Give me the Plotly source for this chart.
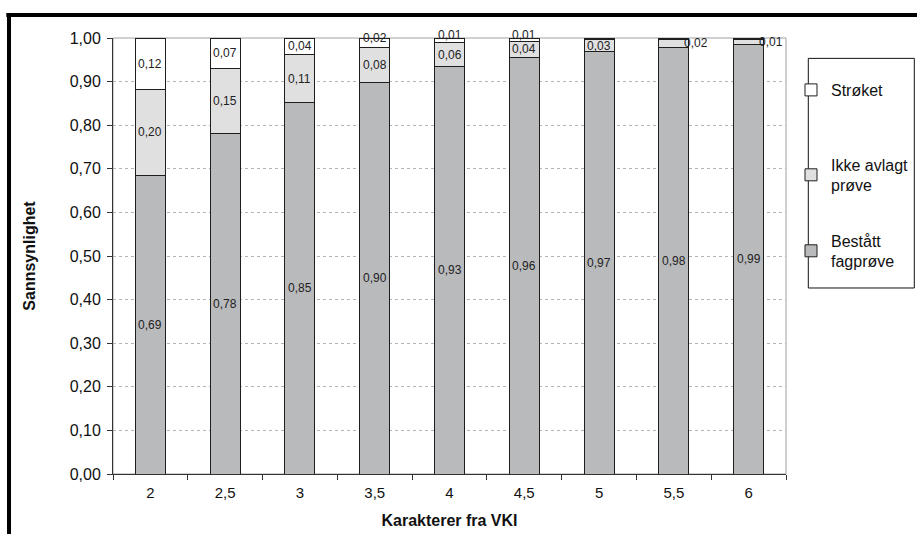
import plotly.graph_objects as go

# ---- data ----
categories = ["2", "2,5", "3", "3,5", "4", "4,5", "5", "5,5", "6"]
bestatt = [0.685, 0.780, 0.851, 0.899, 0.934, 0.956, 0.968, 0.979, 0.986]
ikke_avlagt = [0.197, 0.151, 0.111, 0.080, 0.056, 0.036, 0.029, 0.017, 0.011]
stroket = [0.118, 0.069, 0.038, 0.021, 0.010, 0.008, 0.003, 0.004, 0.003]
y_ticks = [0.0, 0.1, 0.2, 0.3, 0.4, 0.5, 0.6, 0.7, 0.8, 0.9, 1.0]

series = [
    ("Bestått<br>fagprøve", bestatt, "#b9babc", "legend4"),
    ("Ikke avlagt<br>prøve", ikke_avlagt, "#e0e0e0", "legend3"),
    ("Strøket", stroket, "#ffffff", "legend2"),
]

FONT = "Liberation Sans, Arial, sans-serif"
fig = go.Figure()
for name, vals, color, leg in series:
    fig.add_trace(go.Bar(
        x=categories, y=vals, name=name, showlegend=True,
        marker=dict(color=color, line=dict(color="#1e1e1e", width=1)),
        legend=leg, hoverinfo="skip",
    ))

# data labels from the data
annotations = []
base = [0.0] * len(categories)
for si, (name, vals, color, leg) in enumerate(series):
    for j, v in enumerate(vals):
        mid = base[j] + v / 2
        base[j] += v
        if round(v, 2) < 0.01:
            continue
        small = v < 0.025
        xshift = 22 if (si == 1 and small) else 0
        yshift = 5 if (si == 2 and small) else 0
        annotations.append(dict(
            x=j, y=mid, xref="x", yref="y",
            text=f"{v:.2f}".replace(".", ","), showarrow=False,
            xshift=xshift, yshift=yshift,
            font=dict(family=FONT, size=12, color="#222"),
        ))

L, R, T, B = 112.7, 131.3, 37.6, 59.7
W, H = 917, 534
pw, ph = W - L - R, H - T - B
def px(x):
    return (x - L) / pw
def py(y):
    return (H - B - y) / ph

shapes = [
    dict(type="rect", xref="paper", yref="paper", x0=0, x1=1, y0=0, y1=1,
         line=dict(color="#a0a0a0", width=1), layer="below"),
    dict(type="rect", xref="paper", yref="paper", x0=px(808), x1=px(914),
         y0=py(288), y1=py(58), line=dict(color="#111", width=1)),
    dict(type="line", xref="paper", yref="paper", x0=px(6), x1=px(930),
         y0=py(14.5), y1=py(14.5), line=dict(color="#000", width=4)),
    dict(type="line", xref="paper", yref="paper", x0=px(8.7), x1=px(8.7),
         y0=py(12.5), y1=py(540), line=dict(color="#000", width=4)),
]

legend_common = dict(bgcolor="rgba(0,0,0,0)", borderwidth=0,
                     font=dict(family=FONT, size=16, color="#111"),
                     xanchor="left", yanchor="middle", itemwidth=30,
                     xref="container", yref="container")

fig.update_layout(
    width=W, height=H, autosize=False,
    margin=dict(l=L, r=R, t=T, b=B, pad=0),
    paper_bgcolor="white", plot_bgcolor="white",
    barmode="stack", bargap=0.6,
    separators=",.",
    font=dict(family=FONT, color="#111"),
    xaxis=dict(
        type="category", showline=True, linecolor="#333", linewidth=1,
        ticks="outside", ticklen=5, tickcolor="#333", tickson="boundaries",
        ticklabelstandoff=5,
        tickfont=dict(family=FONT, size=15, color="#111"),
        title=dict(text="<b>Karakterer fra VKI</b>", font=dict(family=FONT, size=16, color="#111"), standoff=14),
        showgrid=False, automargin=False,
    ),
    yaxis=dict(
        range=[0, 1], tickvals=y_ticks, tickformat=".2f",
        showline=True, linecolor="#333", linewidth=1,
        ticks="outside", ticklen=5, tickcolor="#333", ticklabelstandoff=3,
        tickfont=dict(family=FONT, size=16, color="#111"),
        showgrid=True, gridcolor="#b5b5b5", gridwidth=1, griddash="dot",
        title=dict(text="<b>Sannsynlighet</b>", font=dict(family=FONT, size=16, color="#111"), standoff=30),
        automargin=False, zeroline=False,
    ),
    showlegend=True,
    legend2=dict(x=791 / W, y=1 - 90 / H, **legend_common),
    legend3=dict(x=791 / W, y=1 - 175 / H, **legend_common),
    legend4=dict(x=791 / W, y=1 - 251 / H, **legend_common),
    annotations=annotations,
    shapes=shapes,
)

fig.write_html("out.html")
